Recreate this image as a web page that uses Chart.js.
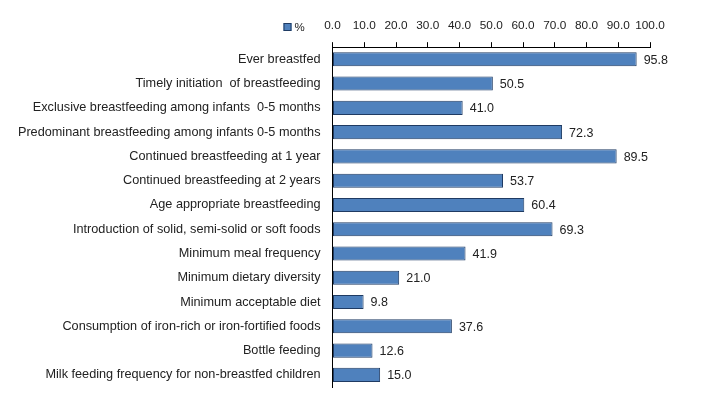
<!DOCTYPE html>
<html>
<head>
<meta charset="utf-8">
<script src="https://cdn.jsdelivr.net/npm/chart.js@4"></script>
<style>
  html, body { margin: 0; padding: 0; background: #fff; }
  #wrap { width: 708px; height: 420px; }
</style>
</head>
<body>
<div id="wrap"><canvas id="myChart" width="708" height="420"></canvas></div>
<script>
var indicators = [
  'Ever breastfed',
  'Timely initiation  of breastfeeding',
  'Exclusive breastfeeding among infants  0-5 months',
  'Predominant breastfeeding among infants 0-5 months',
  'Continued breastfeeding at 1 year',
  'Continued breastfeeding at 2 years',
  'Age appropriate breastfeeding',
  'Introduction of solid, semi-solid or soft foods',
  'Minimum meal frequency',
  'Minimum dietary diversity',
  'Minimum acceptable diet',
  'Consumption of iron-rich or iron-fortified foods',
  'Bottle feeding',
  'Milk feeding frequency for non-breastfed children'
];
var percentValues = [95.8, 50.5, 41.0, 72.3, 89.5, 53.7, 60.4, 69.3, 41.9, 21.0, 9.8, 37.6, 12.6, 15.0];
var seriesName = '%';

var barFill = '#4f81bd';
var barEdge = '#1f3b63';
var textColor = '#222';
var fontFamily = "'Liberation Sans', Arial, sans-serif";

// value at the end of each bar
var valueLabels = {
  id: 'valueLabels',
  afterDatasetsDraw: function(chart) {
    var ctx = chart.ctx;
    var meta = chart.getDatasetMeta(0);
    ctx.save();
    ctx.font = '12.5px ' + fontFamily;
    ctx.fillStyle = textColor;
    ctx.textAlign = 'left';
    ctx.textBaseline = 'middle';
    meta.data.forEach(function(bar, i) {
      ctx.fillText(percentValues[i].toFixed(1), bar.x + 7, bar.y + 1);
    });
    ctx.restore();
  }
};

// small legend left of the top tick labels
var cornerLegend = {
  id: 'cornerLegend',
  afterDraw: function(chart) {
    var ctx = chart.ctx;
    var x = chart.chartArea.left - 49;
    var y = 27;
    ctx.save();
    ctx.fillStyle = barFill;
    ctx.fillRect(x, y - 4, 8, 8);
    ctx.strokeStyle = barEdge;
    ctx.lineWidth = 1;
    ctx.strokeRect(x + 0.5, y - 3.5, 7, 7);
    ctx.font = '11.5px ' + fontFamily;
    ctx.fillStyle = textColor;
    ctx.textBaseline = 'middle';
    ctx.fillText(seriesName, x + 11, y + 1);
    ctx.restore();
  }
};

new Chart('myChart', {
  type: 'bar',
  data: {
    labels: indicators,
    datasets: [
      {
        label: seriesName,
        data: percentValues,
        backgroundColor: barFill,
        borderColor: barEdge,
        borderWidth: 1,
        borderSkipped: false,
        barPercentage: 0.58,
        categoryPercentage: 1.0
      }
    ]
  },
  options: {
    indexAxis: 'y',
    responsive: false,
    animation: false,
    layout: {
      padding: { top: 10, right: 58, bottom: 33, left: 15 }
    },
    plugins: {
      legend: { display: false },
      tooltip: { enabled: false }
    },
    scales: {
      x: {
        position: 'top',
        min: 0,
        max: 100,
        ticks: {
          stepSize: 10,
          autoSkip: false,
          color: textColor,
          font: { size: 11.8, family: fontFamily },
          padding: 9,
          maxRotation: 0,
          callback: function(v) { return Number(v).toFixed(1); }
        },
        grid: {
          drawOnChartArea: false,
          drawTicks: true,
          tickLength: 5,
          color: '#000'
        },
        border: { display: true, color: '#000', width: 1 }
      },
      y: {
        ticks: {
          color: textColor,
          font: { size: 12.7, family: fontFamily },
          padding: 12,
          autoSkip: false
        },
        grid: { display: false, drawTicks: false },
        border: { display: true, color: '#000', width: 1 }
      }
    }
  },
  plugins: [valueLabels, cornerLegend]
});
</script>
</body>
</html>
